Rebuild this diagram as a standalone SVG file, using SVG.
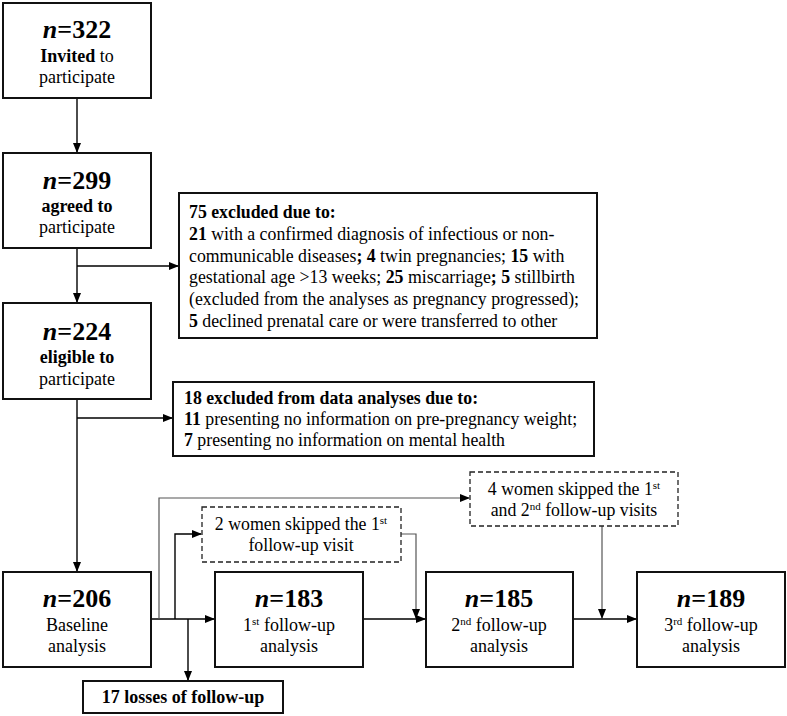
<svg xmlns="http://www.w3.org/2000/svg" width="787" height="716" viewBox="0 0 787 716" font-family="'Liberation Serif', 'DejaVu Serif', serif">
<defs>
<marker id="ah" markerWidth="10" markerHeight="8" refX="9" refY="4" orient="auto" markerUnits="userSpaceOnUse">
<path d="M0,0 L10,4 L0,8 Z" fill="#000"/>
</marker>
<style>
.box{fill:#fff;stroke:#111;stroke-width:2}
.dbox{fill:#fff;stroke:#222;stroke-width:1.3;stroke-dasharray:5,3}
.ln{fill:none;stroke:#000;stroke-width:1.4}
.gl{fill:none;stroke:#555;stroke-width:1.2}
text{fill:#000}
.big{font-size:26px;font-weight:bold;text-anchor:middle}
.mid{font-size:18px;text-anchor:middle}
.t{font-size:17.8px}
.b{font-weight:bold}
.sup{font-size:11px}
</style>
</defs>
<rect width="787" height="716" fill="#fff"/>
<g id="connectors">
<line class="ln" x1="77" y1="98" x2="77" y2="152" marker-end="url(#ah)"/>
<line class="ln" x1="77" y1="248" x2="77" y2="302" marker-end="url(#ah)"/>
<line class="ln" x1="77" y1="266" x2="178" y2="266" marker-end="url(#ah)"/>
<line class="ln" x1="77" y1="399" x2="77" y2="571" marker-end="url(#ah)"/>
<line class="ln" x1="77" y1="418" x2="172" y2="418" marker-end="url(#ah)"/>
<line class="ln" x1="151" y1="619" x2="214" y2="619" marker-end="url(#ah)"/>
<line class="ln" x1="188" y1="619" x2="188" y2="680" marker-end="url(#ah)"/>
<polyline class="ln" points="175,619 175,534 201,534" marker-end="url(#ah)"/>
<polyline class="gl" points="159,619 159,498 469,498" marker-end="url(#ah)"/>
<polyline class="gl" points="401,534 416,534 416,618" marker-end="url(#ah)"/>
<line class="ln" x1="363" y1="619" x2="425" y2="619" marker-end="url(#ah)"/>
<line class="gl" x1="602" y1="526" x2="602" y2="618" marker-end="url(#ah)"/>
<line class="ln" x1="573" y1="619" x2="636" y2="619" marker-end="url(#ah)"/>
</g>
<g id="n322">
<rect class="box" x="3" y="3" width="148" height="95"/>
<text class="big" x="77" y="38"><tspan font-style="italic">n</tspan>=322</text>
<text class="mid" x="77" y="62"><tspan class="b">Invited</tspan> to</text>
<text class="mid" x="77" y="83">participate</text>
</g>
<g id="n299">
<rect class="box" x="3" y="153" width="148" height="95"/>
<text class="big" x="77" y="189"><tspan font-style="italic">n</tspan>=299</text>
<text class="mid b" x="77" y="212">agreed to</text>
<text class="mid" x="77" y="233">participate</text>
</g>
<g id="n224">
<rect class="box" x="3" y="303" width="148" height="96"/>
<text class="big" x="77" y="340"><tspan font-style="italic">n</tspan>=224</text>
<text class="mid b" x="77" y="363">eligible to</text>
<text class="mid" x="77" y="385">participate</text>
</g>
<g id="excluded75">
<rect class="box" x="179" y="193" width="418" height="145"/>
<text class="t" x="189" y="218"><tspan class="b">75 excluded due to:</tspan></text>
<text class="t" x="189" y="240"><tspan class="b">21</tspan> with a confirmed diagnosis of infectious or non-</text>
<text class="t" x="189" y="262">communicable diseases<tspan class="b">;</tspan> <tspan class="b">4</tspan> twin pregnancies; <tspan class="b">15</tspan> with</text>
<text class="t" x="189" y="283">gestational age &gt;13 weeks; <tspan class="b">25</tspan> miscarriage<tspan class="b">;</tspan> <tspan class="b">5</tspan> stillbirth</text>
<text class="t" x="189" y="305">(excluded from the analyses as pregnancy progressed);</text>
<text class="t" x="189" y="327"><tspan class="b">5</tspan> declined prenatal care or were transferred to other</text>
</g>
<g id="excluded18">
<rect class="box" x="173" y="382" width="421" height="74"/>
<text class="t" x="184" y="404"><tspan class="b">18 excluded from data analyses due to:</tspan></text>
<text class="t" x="184" y="425"><tspan class="b">11</tspan> presenting no information on pre-pregnancy weight;</text>
<text class="t" x="184" y="446"><tspan class="b">7</tspan> presenting no information on mental health</text>
</g>
<g id="skip2">
<rect class="dbox" x="202" y="507" width="199" height="55"/>
<text class="t" x="301" y="530" text-anchor="middle">2 women skipped the 1<tspan class="sup" dy="-6">st</tspan></text>
<text class="t" x="301" y="551" text-anchor="middle">follow-up visit</text>
</g>
<g id="skip4">
<rect class="dbox" x="470" y="472" width="208" height="54"/>
<text class="t" x="574" y="495" text-anchor="middle">4 women skipped the 1<tspan class="sup" dy="-6">st</tspan></text>
<text class="t" x="574" y="516" text-anchor="middle">and 2<tspan class="sup" dy="-6">nd</tspan><tspan dy="6"> follow-up visits</tspan></text>
</g>
<g id="n206">
<rect class="box" x="3" y="572" width="148" height="95"/>
<text class="big" x="77" y="607"><tspan font-style="italic">n</tspan>=206</text>
<text class="mid" x="77" y="631">Baseline</text>
<text class="mid" x="77" y="652">analysis</text>
</g>
<g id="n183">
<rect class="box" x="215" y="572" width="148" height="95"/>
<text class="big" x="289" y="607"><tspan font-style="italic">n</tspan>=183</text>
<text class="mid" x="289" y="631">1<tspan class="sup" dy="-6">st</tspan><tspan dy="6"> follow-up</tspan></text>
<text class="mid" x="289" y="652">analysis</text>
</g>
<g id="n185">
<rect class="box" x="426" y="572" width="147" height="95"/>
<text class="big" x="499" y="607"><tspan font-style="italic">n</tspan>=185</text>
<text class="mid" x="499" y="631">2<tspan class="sup" dy="-6">nd</tspan><tspan dy="6"> follow-up</tspan></text>
<text class="mid" x="499" y="652">analysis</text>
</g>
<g id="n189">
<rect class="box" x="637" y="572" width="148" height="95"/>
<text class="big" x="711" y="607"><tspan font-style="italic">n</tspan>=189</text>
<text class="mid" x="711" y="631">3<tspan class="sup" dy="-6">rd</tspan><tspan dy="6"> follow-up</tspan></text>
<text class="mid" x="711" y="652">analysis</text>
</g>
<g id="losses">
<rect class="box" x="83" y="681" width="200" height="32"/>
<text class="mid b" x="183" y="703">17 losses of follow-up</text>
</g>
</svg>
